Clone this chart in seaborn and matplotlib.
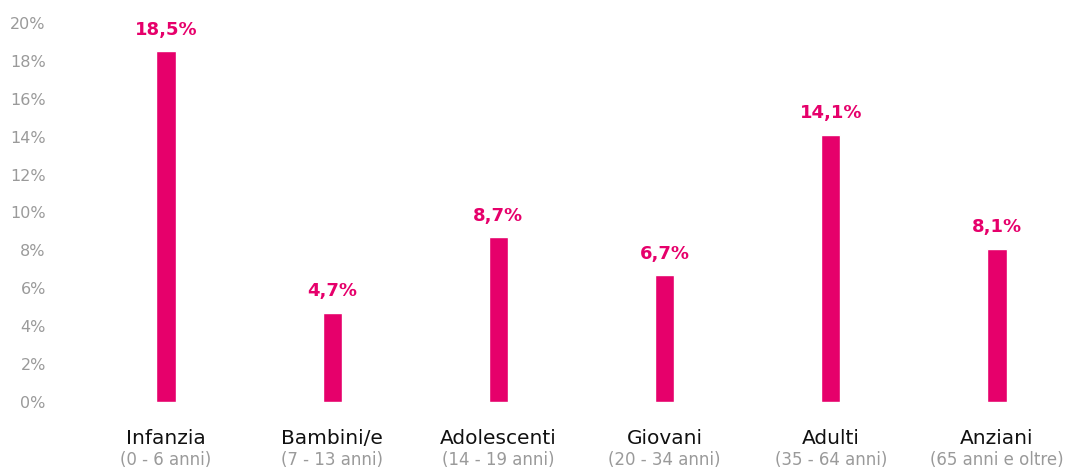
import matplotlib
matplotlib.use("Agg")
import matplotlib.pyplot as plt
import seaborn as sns
import pandas as pd

# Share of the population by age group
groups = ["Infanzia", "Bambini/e", "Adolescenti", "Giovani", "Adulti", "Anziani"]
age_ranges = ["(0 - 6 anni)", "(7 - 13 anni)", "(14 - 19 anni)", "(20 - 34 anni)",
              "(35 - 64 anni)", "(65 anni e oltre)"]
values = [18.5, 4.7, 8.7, 6.7, 14.1, 8.1]
y_ticks = [0, 2, 4, 6, 8, 10, 12, 14, 16, 18, 20]

PINK = "#E6006B"
GREY = "#9a9a9a"

sns.set_theme(style="white")
plt.rcParams["font.family"] = ["DejaVu Sans"]

df = pd.DataFrame({"group": groups, "value": values})

fig = plt.figure(figsize=(10.68, 4.68), dpi=100)
ax = fig.add_axes([50 / 1068, 66 / 468, 1018 / 1068, 379 / 468])

sns.barplot(data=df, x="group", y="value", color=PINK, width=0.115,
            saturation=1, ax=ax)

ax.set_ylim(0, 20)
ax.set_xlim(-0.698, 5.427)
ax.set_yticks(y_ticks)
ax.set_yticklabels([f"{t}%" for t in y_ticks], color=GREY, fontsize=11.5)
ax.tick_params(axis="y", length=0, pad=3)
ax.set_xticks(range(len(groups)))
ax.set_xticklabels([])
ax.tick_params(axis="x", length=0)
ax.set_xlabel("")
ax.set_ylabel("")
for s in ax.spines.values():
    s.set_visible(False)

# Value labels above each bar
for i, v in enumerate(values):
    ax.annotate(f"{v:.1f}%".replace(".", ","), xy=(i, v), xytext=(0, 9),
                textcoords="offset points", ha="center", va="bottom",
                color=PINK, fontsize=13, fontweight="bold")

# Two-line category labels under the axis
for i, (g, r) in enumerate(zip(groups, age_ranges)):
    ax.annotate(g, xy=(i, 0), xycoords=("data", "axes fraction"),
                xytext=(0, -26.5), textcoords="offset points",
                ha="center", va="center", color="#111111", fontsize=14.5)
    ax.annotate(r, xy=(i, 0), xycoords=("data", "axes fraction"),
                xytext=(0, -42), textcoords="offset points",
                ha="center", va="center", color=GREY, fontsize=12)

fig.savefig("out.png", dpi=100)
